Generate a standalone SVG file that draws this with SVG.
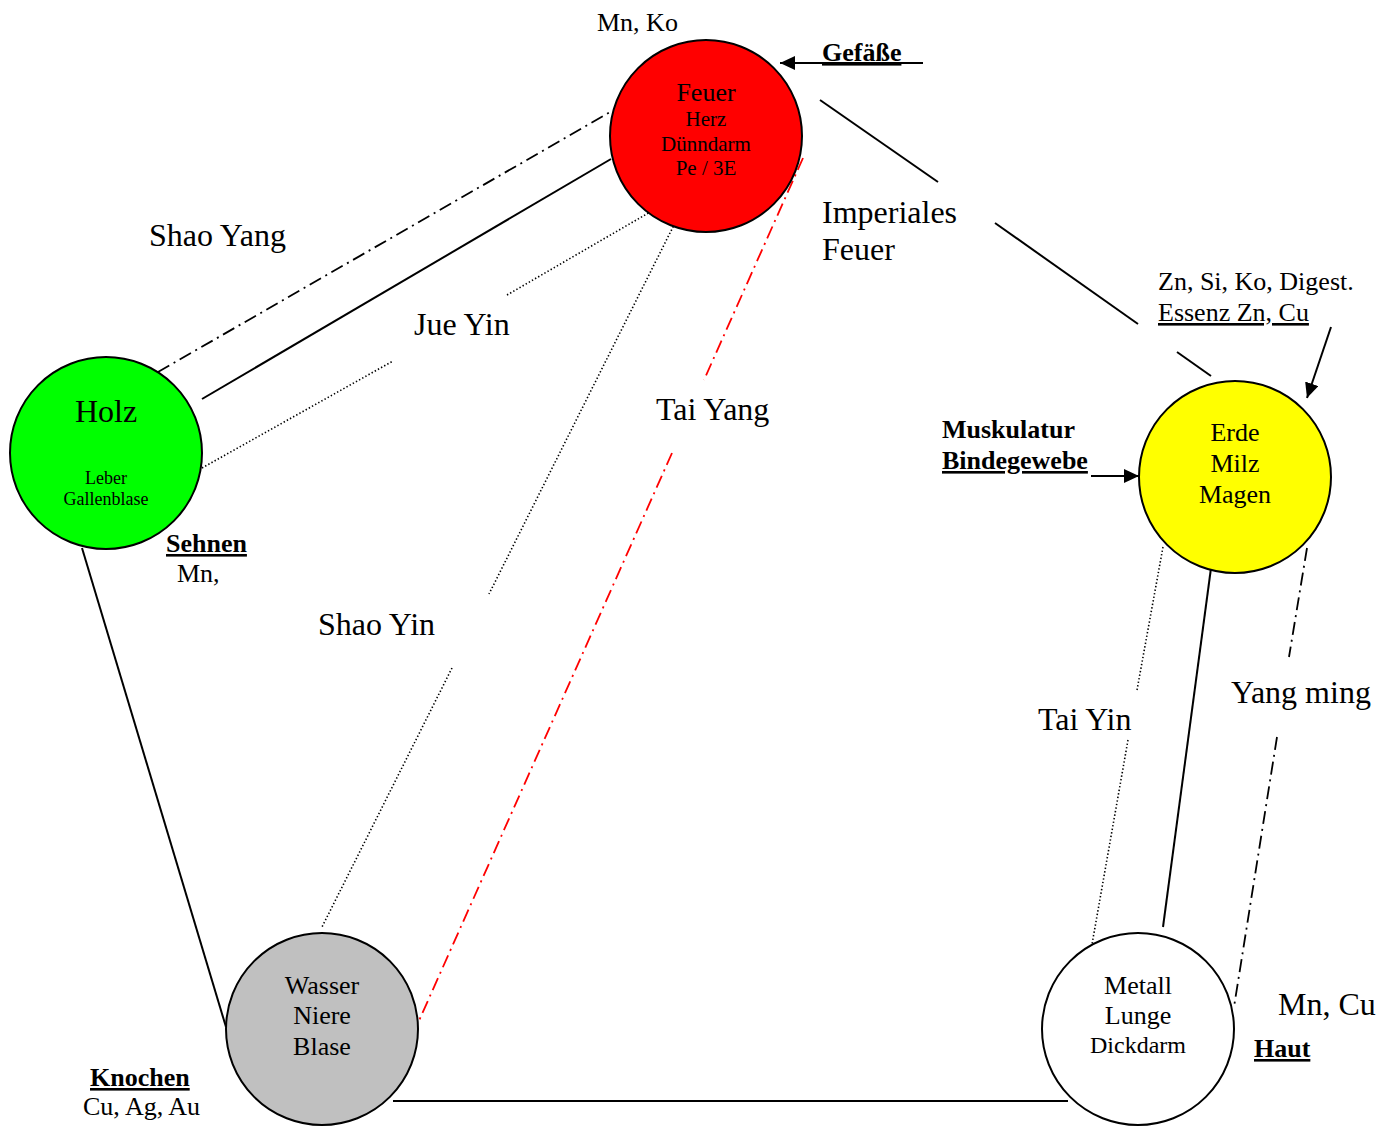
<svg xmlns="http://www.w3.org/2000/svg" width="1397" height="1126" viewBox="0 0 1397 1126">
  <style>
    text { font-family: "Liberation Serif", "Times New Roman", serif; fill: #000; }
    .big { font-size: 32px; }
    .mid { font-size: 26px; }
    .small { font-size: 21px; }
    .tiny { font-size: 18px; }
    .bold { font-weight: bold; }
    .ul { text-decoration: underline; }
    .c { text-anchor: middle; }
    .node { stroke: #000; stroke-width: 2; }
    .solid { stroke: #000; stroke-width: 2; fill: none; }
    .dot { stroke: #000; stroke-width: 1.6; stroke-dasharray: 1.4 2.2; fill: none; }
    .dashdot { stroke: #000; stroke-width: 1.8; stroke-dasharray: 13 5 2 5; fill: none; }
    .reddash { stroke: #ff0000; stroke-width: 1.8; stroke-dasharray: 13 5 2 5; fill: none; }
    .arrow { stroke: #000; stroke-width: 2; fill: none; marker-end: url(#head); }
  </style>
  <defs>
    <marker id="head" viewBox="0 0 15 14" refX="15" refY="7" markerWidth="15" markerHeight="14" markerUnits="userSpaceOnUse" orient="auto">
      <path d="M0,0 L15,7 L0,14 z" fill="#000"/>
    </marker>
  </defs>

  <rect width="1397" height="1126" fill="#fff"/>

  <!-- connectors -->
  <g id="connectors">
    <!-- Holz - Feuer -->
    <line class="dashdot" x1="158" y1="372" x2="612" y2="111"/>
    <line class="solid" x1="202" y1="399" x2="611" y2="159"/>
    <line class="dot" x1="202" y1="468" x2="393" y2="361"/>
    <line class="dot" x1="507" y1="295" x2="657" y2="208"/>
    <!-- Feuer - Wasser -->
    <line class="dot" x1="683" y1="207" x2="489" y2="594"/>
    <line class="dot" x1="452" y1="668" x2="322" y2="927"/>
    <line class="reddash" x1="803" y1="158" x2="704" y2="380"/>
    <line class="reddash" x1="672" y1="453" x2="418" y2="1023"/>
    <!-- Feuer - Erde -->
    <line class="solid" x1="820" y1="100" x2="938" y2="182"/>
    <line class="solid" x1="995" y1="223" x2="1138" y2="324"/>
    <line class="solid" x1="1177" y1="352" x2="1211" y2="376"/>
    <!-- Erde - Metall -->
    <line class="dot" x1="1163" y1="547" x2="1137" y2="690"/>
    <line class="dot" x1="1128" y1="740" x2="1091" y2="950"/>
    <line class="solid" x1="1211" y1="568" x2="1163" y2="927"/>
    <line class="dashdot" x1="1307" y1="548" x2="1289" y2="657"/>
    <line class="dashdot" x1="1277" y1="737" x2="1234" y2="1007"/>
    <!-- Holz - Wasser, Wasser - Metall -->
    <line class="solid" x1="82" y1="548" x2="226" y2="1027"/>
    <line class="solid" x1="393" y1="1101" x2="1068" y2="1101"/>
    <!-- tissue arrows -->
    <line class="arrow" x1="923" y1="63" x2="780" y2="63"/>
    <line class="arrow" x1="1331" y1="327" x2="1307" y2="398"/>
    <line class="arrow" x1="1091" y1="476" x2="1139" y2="476"/>
  </g>

  <!-- elements -->
  <g id="feuer">
    <circle class="node" cx="706" cy="136" r="96" fill="#ff0000"/>
    <text class="mid c" x="706" y="101">Feuer</text>
    <text class="small c" x="706" y="126">Herz</text>
    <text class="small c" x="706" y="151">Dünndarm</text>
    <text class="small c" x="706" y="175">Pe / 3E</text>
  </g>

  <g id="holz">
    <circle class="node" cx="106" cy="453" r="96" fill="#00ff00"/>
    <text class="big c" x="106" y="422">Holz</text>
    <text class="tiny c" x="106" y="484">Leber</text>
    <text class="tiny c" x="106" y="505">Gallenblase</text>
  </g>

  <g id="erde">
    <circle class="node" cx="1235" cy="477" r="96" fill="#ffff00"/>
    <text class="mid c" x="1235" y="441">Erde</text>
    <text class="mid c" x="1235" y="472">Milz</text>
    <text class="mid c" x="1235" y="503">Magen</text>
  </g>

  <g id="metall">
    <circle class="node" cx="1138" cy="1029" r="96" fill="#ffffff"/>
    <text class="mid c" x="1138" y="994">Metall</text>
    <text class="mid c" x="1138" y="1024">Lunge</text>
    <text class="c" x="1138" y="1053" style="font-size:24px">Dickdarm</text>
  </g>

  <g id="wasser">
    <circle class="node" cx="322" cy="1029" r="96" fill="#c0c0c0"/>
    <text class="mid c" x="322" y="994">Wasser</text>
    <text class="mid c" x="322" y="1024">Niere</text>
    <text class="mid c" x="322" y="1055">Blase</text>
  </g>

  <!-- meridian and tissue labels -->
  <g id="labels">
    <text class="mid" x="597" y="31">Mn, Ko</text>
    <text class="mid bold ul" x="822" y="61">Gefäße</text>
    <text class="big" x="149" y="246">Shao Yang</text>
    <text class="big" x="414" y="335">Jue Yin</text>
    <text class="big" x="822" y="223">Imperiales</text>
    <text class="big" x="822" y="260">Feuer</text>
    <text class="big" x="656" y="420">Tai Yang</text>
    <text class="big" x="318" y="635">Shao Yin</text>
    <text class="mid" x="1158" y="290">Zn, Si, Ko, Digest.</text>
    <text class="mid ul" x="1158" y="321">Essenz Zn, Cu</text>
    <text class="mid bold" x="942" y="438">Muskulatur</text>
    <text class="mid bold ul" x="942" y="469">Bindegewebe</text>
    <text class="mid bold ul" x="166" y="552">Sehnen</text>
    <text class="mid" x="177" y="582">Mn,</text>
    <text class="big" x="1038" y="730">Tai Yin</text>
    <text class="big" x="1231" y="703">Yang ming</text>
    <text class="big" x="1278" y="1015">Mn, Cu</text>
    <text class="mid bold ul" x="1254" y="1057">Haut</text>
    <text class="mid bold ul" x="90" y="1086">Knochen</text>
    <text class="mid" x="83" y="1115">Cu, Ag, Au</text>
  </g>
</svg>
